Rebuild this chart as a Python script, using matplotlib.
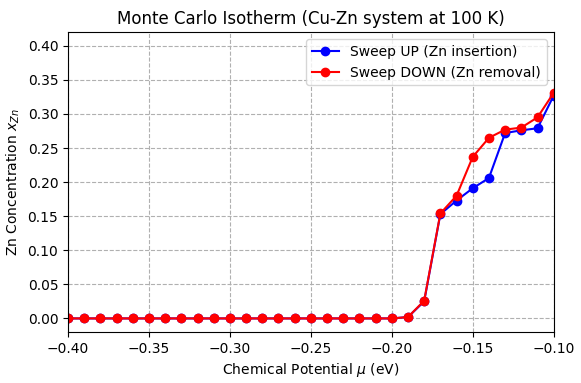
import numpy as np
import matplotlib
matplotlib.use("Agg")
import matplotlib.pyplot as plt

mu = [-0.40, -0.39, -0.38, -0.37, -0.36, -0.35, -0.34, -0.33, -0.32, -0.31,
      -0.30, -0.29, -0.28, -0.27, -0.26, -0.25, -0.24, -0.23, -0.22, -0.21,
      -0.20, -0.19, -0.18, -0.17, -0.16, -0.15, -0.14, -0.13, -0.12, -0.11, -0.10]

x_up = [0.0] * 21 + [0.002, 0.025, 0.153, 0.173, 0.191, 0.206, 0.272, 0.276, 0.279, 0.327]
x_down = [0.0] * 21 + [0.002, 0.026, 0.154, 0.180, 0.237, 0.265, 0.277, 0.280, 0.295, 0.331]

fig, ax = plt.subplots(figsize=(5.81, 3.83), dpi=100)
ax.plot(mu, x_up, 'o-', color='blue', label='Sweep UP (Zn insertion)')
ax.plot(mu, x_down, 'o-', color='red', label='Sweep DOWN (Zn removal)')

ax.set_xlim(-0.4, -0.1)
ax.set_ylim(-0.02, 0.42)
ax.set_yticks(np.arange(0, 0.41, 0.05))
ax.set_xlabel(r'Chemical Potential $\mu$ (eV)')
ax.set_ylabel(r'Zn Concentration $x_{Zn}$')
ax.set_title('Monte Carlo Isotherm (Cu-Zn system at 100 K)')
ax.grid(True, linestyle='--')
ax.legend(loc='upper right')

fig.subplots_adjust(left=0.117, right=0.953, top=0.916, bottom=0.133)
plt.savefig('out.png')
